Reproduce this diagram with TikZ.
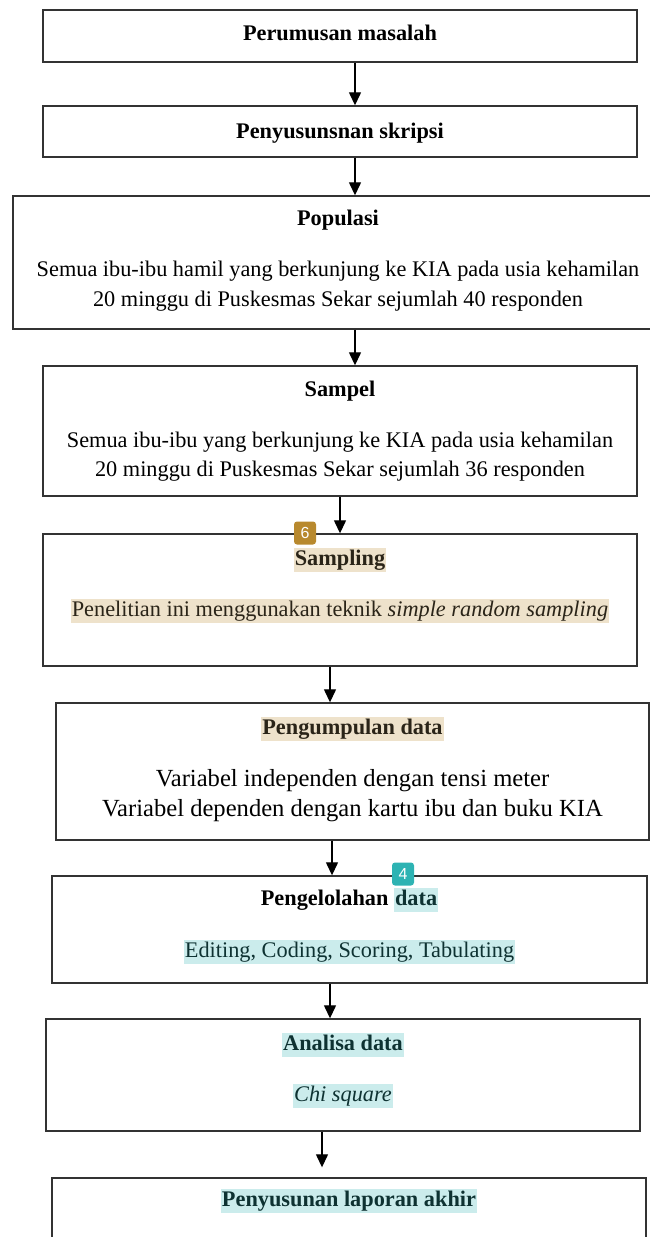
\documentclass[tikz,border=0pt]{standalone}
\usepackage{fontspec}
\setmainfont{Liberation Serif}
\newfontfamily\badgefont{Liberation Sans}
\usetikzlibrary{arrows.meta}
\definecolor{boxline}{HTML}{333333}
\definecolor{hlbeige}{HTML}{EEE2CB}
\definecolor{hlcyan}{HTML}{CBECEC}
\definecolor{txtbeige}{HTML}{2A2418}
\definecolor{txtcyan}{HTML}{0E3232}
\definecolor{badgegold}{HTML}{B8892E}
\definecolor{badgeteal}{HTML}{2DB3B3}
\tikzset{
  x=1pt, y=-1pt,
  box/.style={draw=boxline, line width=1.4pt, rectangle, inner sep=0pt},
  arr/.style={line width=1.3pt, -{Triangle[length=13pt,width=12pt]}},
  txt/.style={anchor=base, inner sep=0pt, font=\fontsize{22.3}{30}\selectfont, text=black},
  bigtxt/.style={txt, font=\fontsize{24.6}{30}\selectfont},
  ttl/.style={txt, font=\fontsize{22.3}{30}\selectfont\bfseries},
  hlb/.style={fill=hlbeige, text=txtbeige, text height=16pt, text depth=5.5pt, inner ysep=1.5pt, inner xsep=1pt},
  hlc/.style={fill=hlcyan, text=txtcyan, text height=16pt, text depth=5.5pt, inner ysep=1.5pt, inner xsep=1pt},
  badge/.style={rounded corners=3pt, minimum width=22pt, minimum height=23pt, inner sep=0pt, text=white, font=\badgefont\fontsize{16}{16}\selectfont}
}
\begin{document}
\begin{tikzpicture}
\useasboundingbox (0,0) rectangle (650,1237);
\clip (0,0) rectangle (650,1237);
% boxes
\node[box, minimum width=594pt, minimum height=52pt] (b1) at (340,36) {};
\node[box, minimum width=594pt, minimum height=51pt] (b2) at (340,131.5) {};
\node[box, minimum width=642pt, minimum height=133pt] (b3) at (334,262.5) {};
\node[box, minimum width=594pt, minimum height=130pt] (b4) at (340,431) {};
\node[box, minimum width=594pt, minimum height=132pt] (b5) at (340,600) {};
\node[box, minimum width=593pt, minimum height=137pt] (b6) at (352.5,771.5) {};
\node[box, minimum width=595pt, minimum height=107pt] (b7) at (349.5,929.5) {};
\node[box, minimum width=594pt, minimum height=112pt] (b8) at (343,1075) {};
\node[box, minimum width=594pt, minimum height=82pt] (b9) at (349,1219) {};
% texts
\node[ttl] (t1) at (340,40) {Perumusan masalah};
\node[ttl] (t2) at (340,138) {Penyusunsnan skripsi};
\node[ttl] (t3) at (338,225) {Populasi};
\node[txt] (t3a) at (338,276) {Semua ibu-ibu hamil yang berkunjung ke KIA pada usia kehamilan};
\node[txt] (t3b) at (338,306) {20 minggu di Puskesmas Sekar sejumlah 40 responden};
\node[ttl] (t4) at (340,396) {Sampel};
\node[txt] (t4a) at (340,447) {Semua ibu-ibu yang berkunjung ke KIA pada usia kehamilan};
\node[txt] (t4b) at (340,476) {20 minggu di Puskesmas Sekar sejumlah 36 responden};
\node[ttl, hlb] (t5) at (340,565) {Sampling};
\node[txt, hlb] (t5a) at (340,616) {Penelitian ini menggunakan teknik \textit{simple random sampling}};
\node[ttl, hlb] (t6) at (352.5,734) {Pengumpulan data};
\node[bigtxt] (t6a) at (352.5,786) {Variabel independen dengan tensi meter};
\node[bigtxt] (t6b) at (352.5,816) {Variabel dependen dengan kartu ibu dan buku KIA};
\node[ttl] (t7) at (349.5,905) {Pengelolahan \tikz[baseline=0pt]\node[hlc, anchor=base, inner sep=0pt, inner ysep=1.5pt, inner xsep=1pt, font=\fontsize{22.3}{30}\selectfont\bfseries] {data};};
\node[txt, hlc] (t7a) at (349.5,957) {Editing, Coding, Scoring, Tabulating};
\node[ttl, hlc] (t8) at (343,1050) {Analisa data};
\node[txt, hlc] (t8a) at (343,1101) {\textit{Chi square}};
\node[ttl, hlc] (t9) at (349,1206) {Penyusunan laporan akhir};
% arrows
\draw[arr] ([xshift=15pt]b1.south) -- ([xshift=15pt]b1.south |- b2.north);
\draw[arr] ([xshift=15pt]b2.south) -- ([xshift=15pt]b2.south |- b3.north);
\draw[arr] ([xshift=21pt]b3.south) -- ([xshift=21pt]b3.south |- b4.north);
\draw[arr] (b4.south) -- (b4.south |- b5.north);
\draw[arr] ([xshift=-10pt]b5.south) -- ([xshift=-10pt]b5.south |- b6.north);
\draw[arr] ([xshift=-20.5pt]b6.south) -- ([xshift=-20.5pt]b6.south |- b7.north);
\draw[arr] ([xshift=-19.5pt]b7.south) -- ([xshift=-19.5pt]b7.south |- b8.north);
\draw[arr, shorten >=10pt] ([xshift=-21pt]b8.south) -- ([xshift=-21pt]b8.south |- b9.north);
% badges
\node[badge, fill=badgegold] (g6) at (305,533) {6};
\node[badge, fill=badgeteal] (g4) at (403,874) {4};
\end{tikzpicture}
\end{document}
